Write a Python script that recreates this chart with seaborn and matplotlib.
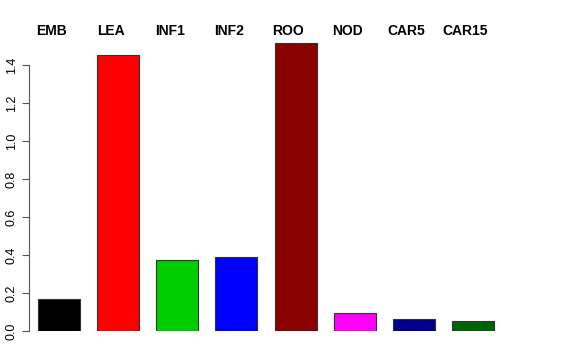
import matplotlib
matplotlib.use("Agg")
import matplotlib.pyplot as plt
import seaborn as sns
import pandas as pd

categories = ["EMB", "LEA", "INF1", "INF2", "ROO", "NOD", "CAR5", "CAR15"]
values = [0.167, 1.452, 0.374, 0.387, 1.516, 0.095, 0.063, 0.053]
colors = ["#000000", "#FF0000", "#00CD00", "#0000FF", "#8B0000", "#FF00FF", "#00008B", "#006400"]
yticks = [0.0, 0.2, 0.4, 0.6, 0.8, 1.0, 1.2, 1.4]

sns.set_style("white")
plt.rcParams["font.family"] = ["Liberation Sans", "DejaVu Sans"]

df = pd.DataFrame({"cat": categories, "val": values})

fig = plt.figure(figsize=(5.76, 3.6), dpi=100)
ax = fig.add_axes([29/576, 29/360, 474/576, (331-36.5)/360])
sns.barplot(data=df, x="cat", y="val", hue="cat", palette=colors, order=categories,
            hue_order=categories, legend=False, width=0.71, edgecolor="#333333",
            linewidth=0.8, saturation=1, ax=ax)
ax.set_xlim(-0.507, 7.507)
ax.set_ylim(0, 1.55)
for s in ["top", "right", "bottom"]:
    ax.spines[s].set_visible(False)
ax.spines["left"].set_bounds(0, 1.4)
ax.spines["left"].set_color("#555555")
ax.spines["left"].set_linewidth(0.8)
ax.set_yticks(yticks)
ax.set_yticklabels([f"{t:.1f}" for t in yticks], rotation=90, va="center", fontsize=9, color="black")
ax.tick_params(axis="y", length=5, width=0.8, color="#555555", pad=3, left=True)
ax.set_xticks([])
ax.set_xlabel("")
ax.set_ylabel("")
for i, c in enumerate(categories):
    ax.text(i - 0.125, 1.58, c, ha="center", va="center", fontsize=10,
            fontweight="bold", color="black", clip_on=False)
fig.savefig("out.png", dpi=100)
